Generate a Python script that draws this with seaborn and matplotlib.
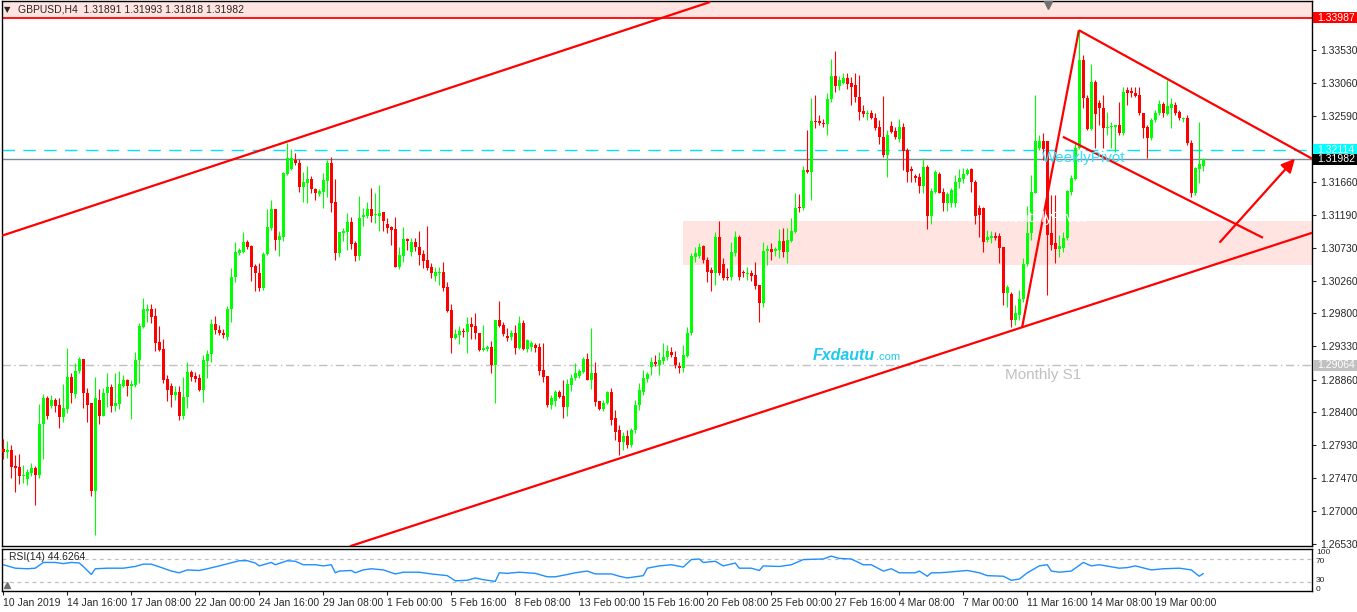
import numpy as np
import matplotlib
matplotlib.use("Agg")
import matplotlib.pyplot as plt
import seaborn as sns
from matplotlib.patches import Rectangle
from matplotlib.transforms import blended_transform_factory

# ---------------- data (GBPUSD H4) ----------------
OPEN = [
 1.2788,1.2783,1.2786,1.2764,1.2762,1.2749,1.2745,1.2754,1.2761,1.2751,
 1.2823,1.2860,1.2849,1.2857,1.2850,1.2833,1.2844,1.2890,1.2866,1.2898,
 1.2915,1.2867,1.2853,1.2728,1.2857,1.2834,1.2867,1.2876,1.2849,1.2851,
 1.2877,1.2885,1.2877,1.2878,1.2914,1.2960,1.2983,1.2986,1.2976,1.2939,
 1.2929,1.2887,1.2877,1.2864,1.2868,1.2834,1.2861,1.2897,1.2891,1.2888,
 1.2871,1.2912,1.2922,1.2965,1.2956,1.2952,1.2946,1.2986,1.3031,1.3065,
 1.3067,1.3081,1.3075,1.3047,1.3037,1.3016,1.3064,1.3101,1.3128,1.3084,
 1.3088,1.3177,1.3184,1.3197,1.3193,1.3159,1.3164,1.3170,1.3156,1.3149,
 1.3152,1.3167,1.3193,1.3138,1.3065,1.3094,1.3095,1.3109,1.3080,1.3061,
 1.3116,1.3118,1.3128,1.3119,1.3118,1.3123,1.3106,1.3102,1.3099,1.3046,
 1.3061,1.3085,1.3067,1.3081,1.3074,1.3064,1.3055,1.3046,1.3033,1.3037,
 1.3038,1.3017,1.2984,1.2945,1.2949,1.2955,1.2953,1.2965,1.2962,1.2952,
 1.2928,1.2929,1.2932,1.2907,1.2970,1.2963,1.2948,1.2946,1.2952,1.2931,
 1.2966,1.2929,1.2932,1.2935,1.2932,1.2899,1.2891,1.2850,1.2856,1.2868,
 1.2863,1.2847,1.2879,1.2888,1.2891,1.2897,1.2915,1.2885,1.2895,1.2856,
 1.2844,1.2853,1.2868,1.2831,1.2815,1.2798,1.2806,1.2793,1.2815,1.2850,
 1.2868,1.2887,1.2904,1.2911,1.2907,1.2912,1.2918,1.2925,1.2918,1.2905,
 1.2902,1.2919,1.2952,1.3060,1.3061,1.3075,1.3055,1.3041,1.3037,1.3088,
 1.3050,1.3031,1.3031,1.3065,1.3088,1.3038,1.3036,1.3037,1.3034,1.3020,
 1.2995,1.3068,1.3071,1.3068,1.3070,1.3082,1.3067,1.3082,1.3095,1.3130,
 1.3129,1.3183,1.3180,1.3252,1.3252,1.3250,1.3248,1.3283,1.3316,1.3302,
 1.3306,1.3313,1.3306,1.3303,1.3286,1.3267,1.3262,1.3264,1.3257,1.3244,
 1.3230,1.3204,1.3245,1.3238,1.3227,1.3244,1.3211,1.3184,1.3174,1.3173,
 1.3160,1.3187,1.3118,1.3152,1.3177,1.3152,1.3136,1.3136,1.3136,1.3166,
 1.3170,1.3177,1.3184,1.3166,1.3129,1.3129,1.3084,1.3087,1.3089,1.3089,
 1.3074,1.3009,1.3007,1.2970,1.2978,1.3000,1.3050,1.3094,1.3150,1.3214,
 1.3224,1.3224,1.3094,1.3080,1.3071,1.3072,1.3087,1.3152,1.3170,1.3214,
 1.3339,1.3285,1.3241,1.3308,1.3278,1.3271,1.3242,1.3244,1.3244,1.3247,
 1.3235,1.3296,1.3295,1.3292,1.3289,1.3264,1.3244,1.3228,1.3254,1.3264,
 1.3276,1.3262,1.3271,1.3275,1.3265,1.3255,1.3257,1.3221,1.3150,1.3184,
 1.31891]
HIGH = [
 1.2802,1.2799,1.2793,1.2779,1.2781,1.2765,1.2759,1.2768,1.2764,1.2851,
 1.2866,1.2863,1.2864,1.2860,1.2860,1.2880,1.2931,1.2895,1.2910,1.2918,
 1.2915,1.2874,1.2853,1.2890,1.2873,1.2874,1.2895,1.2880,1.2895,1.2898,
 1.2892,1.2887,1.2885,1.2925,1.2966,1.3002,1.2993,1.2993,1.2987,1.2962,
 1.2944,1.2892,1.2881,1.2877,1.2877,1.2890,1.2911,1.2900,1.2897,1.2894,
 1.2921,1.2928,1.2972,1.2976,1.2963,1.2958,1.2990,1.3044,1.3081,1.3072,
 1.3095,1.3084,1.3077,1.3050,1.3051,1.3067,1.3128,1.3140,1.3128,1.3097,
 1.3180,1.3221,1.3213,1.3207,1.3199,1.3180,1.3189,1.3174,1.3157,1.3156,
 1.3179,1.3197,1.3201,1.3170,1.3095,1.3101,1.3122,1.3116,1.3082,1.3146,
 1.3129,1.3138,1.3157,1.3150,1.3162,1.3123,1.3115,1.3104,1.3116,1.3074,
 1.3102,1.3087,1.3087,1.3087,1.3097,1.3070,1.3104,1.3051,1.3046,1.3046,
 1.3052,1.3024,1.2993,1.2958,1.2962,1.2959,1.2975,1.2975,1.2980,1.2952,
 1.2963,1.2935,1.2941,1.2970,1.2997,1.2968,1.2959,1.2956,1.2963,1.2976,
 1.2970,1.2944,1.2941,1.2938,1.2938,1.2938,1.2891,1.2864,1.2871,1.2871,
 1.2885,1.2887,1.2894,1.2910,1.2901,1.2918,1.2924,1.2959,1.2911,1.2856,
 1.2857,1.2870,1.2874,1.2843,1.2822,1.2812,1.2815,1.2817,1.2857,1.2881,
 1.2900,1.2897,1.2918,1.2921,1.2925,1.2938,1.2935,1.2932,1.2927,1.2911,
 1.2935,1.2960,1.3065,1.3074,1.3080,1.3077,1.3060,1.3046,1.3095,1.3111,
 1.3058,1.3044,1.3081,1.3097,1.3091,1.3041,1.3046,1.3041,1.3053,1.3020,
 1.3081,1.3077,1.3080,1.3074,1.3099,1.3101,1.3101,1.3115,1.3150,1.3149,
 1.3189,1.3240,1.3285,1.3289,1.3261,1.3255,1.3292,1.3340,1.3352,1.3316,
 1.3320,1.3320,1.3315,1.3320,1.3317,1.3275,1.3268,1.3268,1.3264,1.3254,
 1.3288,1.3240,1.3252,1.3244,1.3255,1.3250,1.3214,1.3189,1.3177,1.3179,
 1.3200,1.3190,1.3157,1.3183,1.3180,1.3157,1.3152,1.3157,1.3176,1.3184,
 1.3186,1.3186,1.3186,1.3169,1.3133,1.3131,1.3098,1.3097,1.3095,1.3094,
 1.3074,1.3020,1.3010,1.2992,1.3013,1.3058,1.3132,1.3176,1.3289,1.3233,
 1.3235,1.3224,1.3148,1.3148,1.3091,1.3095,1.3155,1.3176,1.3221,1.3381,
 1.3346,1.3289,1.3333,1.3310,1.3282,1.3289,1.3265,1.3251,1.3247,1.3279,
 1.3301,1.3301,1.3301,1.3301,1.3301,1.3264,1.3247,1.3257,1.3268,1.3282,
 1.3279,1.3310,1.3285,1.3279,1.3268,1.3258,1.3261,1.3225,1.3187,1.3251,
 1.31993]
LOW = [
 1.2773,1.2775,1.2747,1.2727,1.2738,1.2740,1.2737,1.2749,1.2708,1.2747,
 1.2773,1.2830,1.2846,1.2840,1.2817,1.2826,1.2839,1.2853,1.2860,1.2895,
 1.2846,1.2826,1.2721,1.2666,1.2823,1.2834,1.2847,1.2840,1.2842,1.2844,
 1.2876,1.2863,1.2830,1.2876,1.2881,1.2959,1.2968,1.2966,1.2927,1.2927,
 1.2881,1.2856,1.2847,1.2857,1.2829,1.2830,1.2846,1.2884,1.2883,1.2870,
 1.2854,1.2888,1.2911,1.2951,1.2949,1.2945,1.2942,1.2968,1.3024,1.3062,
 1.3065,1.3071,1.3026,1.3012,1.3012,1.3013,1.3062,1.3098,1.3070,1.3061,
 1.3082,1.3176,1.3183,1.3190,1.3152,1.3138,1.3136,1.3150,1.3140,1.3146,
 1.3129,1.3145,1.3123,1.3055,1.3060,1.3082,1.3070,1.3071,1.3054,1.3055,
 1.3104,1.3115,1.3109,1.3108,1.3097,1.3097,1.3094,1.3077,1.3046,1.3043,
 1.3053,1.3070,1.3061,1.3068,1.3048,1.3044,1.3041,1.3030,1.3026,1.3020,
 1.3012,1.2982,1.2924,1.2943,1.2936,1.2946,1.2924,1.2943,1.2943,1.2927,
 1.2927,1.2927,1.2895,1.2853,1.2960,1.2948,1.2941,1.2942,1.2922,1.2929,
 1.2928,1.2925,1.2927,1.2925,1.2893,1.2883,1.2847,1.2844,1.2849,1.2860,
 1.2832,1.2834,1.2870,1.2885,1.2888,1.2895,1.2885,1.2873,1.2849,1.2843,
 1.2841,1.2851,1.2822,1.2800,1.2779,1.2786,1.2789,1.2790,1.2810,1.2843,
 1.2864,1.2883,1.2892,1.2905,1.2892,1.2908,1.2914,1.2918,1.2902,1.2895,
 1.2897,1.2918,1.2949,1.3053,1.3058,1.3051,1.3024,1.3012,1.3020,1.3034,
 1.3027,1.3027,1.3027,1.3061,1.3027,1.3031,1.3027,1.3026,1.3014,1.2968,
 1.2989,1.3048,1.3055,1.3061,1.3058,1.3060,1.3051,1.3081,1.3094,1.3123,
 1.3126,1.3179,1.3140,1.3242,1.3247,1.3244,1.3233,1.3279,1.3293,1.3296,
 1.3305,1.3298,1.3275,1.3279,1.3254,1.3258,1.3254,1.3255,1.3240,1.3220,
 1.3201,1.3173,1.3235,1.3227,1.3223,1.3183,1.3166,1.3166,1.3166,1.3150,
 1.3150,1.3099,1.3106,1.3150,1.3150,1.3125,1.3125,1.3131,1.3131,1.3157,
 1.3164,1.3176,1.3152,1.3106,1.3088,1.3067,1.3081,1.3080,1.3084,1.3051,
 1.2992,1.2989,1.2960,1.2963,1.2970,1.2996,1.3047,1.3084,1.3150,1.3211,
 1.3197,1.3006,1.3070,1.3051,1.3060,1.3067,1.3084,1.3147,1.3169,1.3213,
 1.3271,1.3240,1.3240,1.3214,1.3247,1.3214,1.3233,1.3214,1.3208,1.3233,
 1.3233,1.3275,1.3286,1.3286,1.3261,1.3228,1.3200,1.3225,1.3251,1.3261,
 1.3258,1.3261,1.3242,1.3261,1.3254,1.3251,1.3218,1.3145,1.3147,1.3164,
 1.31818]
CLOSE = [
 1.2783,1.2786,1.2762,1.2761,1.2749,1.2751,1.2755,1.2761,1.2751,1.2823,
 1.2860,1.2834,1.2857,1.2849,1.2833,1.2846,1.2890,1.2867,1.2898,1.2915,
 1.2867,1.2850,1.2728,1.2860,1.2834,1.2867,1.2876,1.2849,1.2853,1.2880,
 1.2885,1.2877,1.2880,1.2914,1.2962,1.2986,1.2986,1.2975,1.2938,1.2928,
 1.2885,1.2871,1.2864,1.2868,1.2834,1.2861,1.2897,1.2890,1.2887,1.2871,
 1.2914,1.2922,1.2965,1.2956,1.2952,1.2949,1.2986,1.3031,1.3067,1.3070,
 1.3081,1.3074,1.3046,1.3037,1.3016,1.3064,1.3102,1.3128,1.3084,1.3089,
 1.3179,1.3200,1.3200,1.3193,1.3159,1.3166,1.3170,1.3156,1.3150,1.3153,
 1.3169,1.3193,1.3136,1.3065,1.3095,1.3097,1.3109,1.3078,1.3061,1.3115,
 1.3119,1.3128,1.3118,1.3121,1.3122,1.3111,1.3101,1.3098,1.3046,1.3062,
 1.3085,1.3082,1.3081,1.3074,1.3063,1.3054,1.3044,1.3037,1.3038,1.3038,
 1.3016,1.2983,1.2945,1.2951,1.2955,1.2953,1.2965,1.2961,1.2952,1.2928,
 1.2931,1.2932,1.2907,1.2970,1.2962,1.2951,1.2945,1.2952,1.2931,1.2966,
 1.2929,1.2942,1.2938,1.2931,1.2898,1.2890,1.2850,1.2860,1.2868,1.2861,
 1.2847,1.2880,1.2888,1.2895,1.2898,1.2915,1.2885,1.2895,1.2854,1.2844,
 1.2853,1.2868,1.2829,1.2812,1.2798,1.2806,1.2793,1.2815,1.2850,1.2871,
 1.2888,1.2894,1.2911,1.2908,1.2914,1.2918,1.2927,1.2921,1.2907,1.2902,
 1.2921,1.2952,1.3061,1.3065,1.3074,1.3055,1.3038,1.3037,1.3088,1.3037,
 1.3030,1.3030,1.3067,1.3088,1.3031,1.3037,1.3037,1.3033,1.3019,1.2995,
 1.3068,1.3071,1.3067,1.3071,1.3082,1.3067,1.3084,1.3097,1.3129,1.3129,
 1.3183,1.3180,1.3252,1.3251,1.3250,1.3248,1.3283,1.3316,1.3302,1.3310,
 1.3313,1.3305,1.3301,1.3286,1.3265,1.3262,1.3264,1.3257,1.3242,1.3230,
 1.3204,1.3232,1.3237,1.3230,1.3244,1.3210,1.3180,1.3181,1.3172,1.3160,
 1.3187,1.3118,1.3153,1.3180,1.3150,1.3136,1.3149,1.3155,1.3166,1.3172,
 1.3177,1.3183,1.3166,1.3118,1.3119,1.3081,1.3088,1.3089,1.3087,1.3072,
 1.3009,1.3017,1.2970,1.2980,1.3000,1.3050,1.3094,1.3152,1.3224,1.3224,
 1.3213,1.3091,1.3077,1.3071,1.3075,1.3087,1.3153,1.3172,1.3214,1.3339,
 1.3285,1.3241,1.3308,1.3262,1.3271,1.3242,1.3244,1.3245,1.3247,1.3235,
 1.3293,1.3292,1.3292,1.3288,1.3264,1.3242,1.3228,1.3254,1.3264,1.3276,
 1.3264,1.3274,1.3276,1.3264,1.3257,1.3257,1.3221,1.3150,1.3186,1.3191,
 1.31982]

RSI_BAR = [0,3,6,8,10,13,15,17,19,20,22,23,26,30,33,35,37,40,42,44,46,49,51,54,59,
           61,63,64,67,68,71,73,75,78,80,82,83,84,87,88,90,92,95,98,100,104,107,111,113,116,
           118,120,123,124,126,129,133,136,138,141,143,146,148,152,154,156,160,161,164,167,
           170,172,174,175,178,180,183,184,187,189,190,194,197,200,205,207,209,212,215,217,
           220,222,224,228,229,231,232,234,236,241,244,246,250,252,254,256,259,261,262,264,
           267,270,272,274,279,281,283,287,290,294,297,299,300]
RSI_VAL = [60,54,53,54,64,64,62,64,63,57,43,53,54,54,57,61,61,54,49,46,51,50,53,58,67,
           67,63,58,64,60,67,66,60,60,58,60,46,49,50,46,51,53,51,44,47,47,44,41,32,33,
           37,34,31,46,45,47,45,39,39,43,46,49,44,44,40,37,41,54,58,60,
           56,69,70,64,66,58,63,54,54,50,58,57,60,69,70,75,71,70,60,60,
           49,53,46,46,49,40,46,46,47,50,46,41,40,33,35,46,58,60,49,47,
           49,64,58,60,54,55,58,51,53,54,51,40,44.6264]

TIME_LABELS = ["10 Jan 2019", "14 Jan 16:00", "17 Jan 08:00", "22 Jan 00:00", "24 Jan 16:00",
               "29 Jan 08:00", "1 Feb 00:00", "5 Feb 16:00", "8 Feb 08:00", "13 Feb 00:00",
               "15 Feb 16:00", "20 Feb 08:00", "25 Feb 00:00", "27 Feb 16:00", "4 Mar 08:00",
               "7 Mar 00:00", "11 Mar 16:00", "14 Mar 08:00", "19 Mar 00:00"]
TIME_LABEL_BARS = [0, 16, 32, 48, 64, 80, 96, 112, 128, 144, 160, 176, 192, 208, 224, 240, 256, 272, 288]

PRICE_TICKS = [1.33530, 1.33060, 1.32590, 1.31660, 1.31190, 1.30730, 1.30260, 1.29800,
               1.29330, 1.28860, 1.28400, 1.27930, 1.27470, 1.27000, 1.26530]
RSI_LEVEL_LABELS = ['100', '70', '30', '0']

RESISTANCE = 1.33987
WEEKLY_PIVOT = 1.32114
BID = 1.31982
MONTHLY_S1 = 1.29064
ZONE = (169.9, 1.3048, 1.3111)          # start bar, low, high
CHANNEL_UPPER = [(-0.3, 1.3090), (176.7, 1.3421)]
CHANNEL_LOWER = [(86.7, 1.2650), (327.2, 1.3094)]
FLAG_POLE = [(254.7, 1.2960), (268.9, 1.3381)]
PENNANT_UPPER = [(268.9, 1.3381), (327.2, 1.3199)]
PENNANT_LOWER = [(264.9, 1.3230), (314.9, 1.3087)]
ARROW = [(304.2, 1.3081), (322.9, 1.3199)]

# ---------------- style ----------------
sns.set_style("white")
plt.rcParams['font.family'] = ['Liberation Sans', 'DejaVu Sans']
plt.rcParams['axes.linewidth'] = 1.0

W, H = 1357, 612
fig = plt.figure(figsize=(W / 100, H / 100), dpi=100)
fig.patch.set_facecolor('white')


def rect(x0, y0, x1, y1):
    return [x0 / W, 1 - y1 / H, (x1 - x0) / W, (y1 - y0) / H]


ax = fig.add_axes(rect(2, 1, 1312, 546))
axr = fig.add_axes(rect(2, 549, 1312, 591))

XL = (-0.325, 327.175)
YL = (1.26503, 1.34224)
ax.set_xlim(*XL)
ax.set_ylim(*YL)
axr.set_xlim(*XL)
axr.set_ylim(14.3, 87.4)

for a in (ax, axr):
    for s in a.spines.values():
        s.set_color('black')
        s.set_linewidth(1.0)

RED = '#FF0000'
GREEN = '#00FF00'

# zones
ax.add_patch(Rectangle((XL[0], RESISTANCE), XL[1] - XL[0], YL[1] - RESISTANCE,
                       facecolor='#FFE4E1', edgecolor='none', zorder=0))
ax.add_patch(Rectangle((ZONE[0], ZONE[1]), XL[1] - ZONE[0], ZONE[2] - ZONE[1],
                       facecolor='#FFE4E1', edgecolor='none', zorder=0))

# horizontal levels
ax.axhline(RESISTANCE, color=RED, lw=1.3, zorder=1)
ax.axhline(WEEKLY_PIVOT, color='#00E5FF', lw=1.0, dashes=(9, 6), zorder=1)
ax.axhline(BID, color='#778899', lw=1.0, zorder=1)
ax.axhline(MONTHLY_S1, color='#C0C0C0', lw=1.0, dashes=(6, 2.5, 1, 2.5), zorder=1)

# candles
o, h, l, c = (np.array(v) for v in (OPEN, HIGH, LOW, CLOSE))
idx = np.arange(len(c))
cols = np.where(c >= o, GREEN, RED)
ax.vlines(idx, l, h, colors=cols, lw=0.8, zorder=3)
ax.bar(idx, np.maximum(np.abs(c - o), 0.00008), bottom=np.minimum(o, c), width=0.72,
       color=cols, edgecolor='none', zorder=4)

# trend lines
for seg in (CHANNEL_UPPER, CHANNEL_LOWER, FLAG_POLE, PENNANT_UPPER, PENNANT_LOWER):
    (x0, y0), (x1, y1) = seg
    ax.plot([x0, x1], [y0, y1], color=RED, lw=1.6, zorder=5, solid_capstyle='butt')
ax.annotate('', xy=ARROW[1], xytext=ARROW[0],
            arrowprops=dict(arrowstyle='-|>', color=RED, lw=1.6, mutation_scale=20,
                            shrinkA=0, shrinkB=0), zorder=6)

# texts on chart
ax.text(259.7, 1.3195, 'WeeklyPivot', color='#33E0FF', fontsize=11, va='baseline',
        ha='left', zorder=7)
ax.text(250.4, 1.28869, 'Monthly S1', color='#C0C0C0', fontsize=11, va='baseline',
        ha='left', zorder=7)
ax.text(249.2, 1.31093, 'MonthlyPivot', color='white', fontsize=11, va='baseline',
        ha='left', zorder=7)
ax.text(202.4, 1.29138, 'Fxdautu', color='#1EC8F0', fontsize=11.5, fontstyle='italic',
        fontweight='bold', va='baseline', ha='left', zorder=7)
ax.text(218.2, 1.29138, '.com', color='#1EC8F0', fontsize=8, va='baseline', ha='left',
        zorder=7)

fig.text(4 / W, 1 - 10 / H, '\u25BC', fontsize=6, va='center', ha='left',
         family=['DejaVu Sans'])
fig.text(18 / W, 1 - 10 / H, 'GBPUSD,H4  1.31891 1.31993 1.31818 1.31982', fontsize=7.5,
         va='center', ha='left')
ax.plot([0.7985], [0.993], marker='v', ms=6, color='#707070', transform=ax.transAxes,
        clip_on=False, zorder=8)

# right axis
ax.yaxis.tick_right()
ax.set_yticks(PRICE_TICKS)
ax.set_yticklabels([f'{p:.5f}' for p in PRICE_TICKS])
ax.tick_params(axis='y', direction='out', length=3, width=0.8, labelsize=7.5, pad=3,
               left=False, right=True)
ax.tick_params(axis='x', bottom=False, labelbottom=False)

tr = blended_transform_factory(ax.transAxes, ax.transData)
box_h = 0.00156
for price, fc in ((RESISTANCE, RED), (WEEKLY_PIVOT, '#00FFFF'), (BID, 'black'),
                  (MONTHLY_S1, '#C0C0C0')):
    ax.add_patch(Rectangle((1.0008, price - box_h / 2), 44 / 1310, box_h, transform=tr,
                           facecolor=fc, edgecolor='none', clip_on=False, zorder=9))
    ax.text(1.004, price, f'{price:.5f}', transform=tr, color='white', fontsize=7.5,
            va='center', ha='left', clip_on=False, zorder=10)

# RSI panel
axr.axhline(70, color='#C0C0C0', lw=0.9, dashes=(3, 3))
axr.axhline(30, color='#C0C0C0', lw=0.9, dashes=(3, 3))
sns.lineplot(x=RSI_BAR, y=RSI_VAL, ax=axr, color='#1E90FF', lw=1.0)
axr.set_xlabel('')
axr.set_ylabel('')
axr.set_yticks([])
axr.text(0.005, 0.80, f'RSI(14) {RSI_VAL[-1]:.4f}', transform=axr.transAxes, fontsize=7.5,
         va='center', ha='left')
trr = blended_transform_factory(axr.transAxes, axr.transData)
for lab, yv in zip(RSI_LEVEL_LABELS, (81, 66, 33, 17)):
    axr.text(1.003, yv, lab, transform=trr, fontsize=6, va='center', ha='left',
             clip_on=False)
axr.plot([0.004], [0.14], marker='^', ms=5, color='#707070', transform=axr.transAxes,
         clip_on=False)
axr.set_xticks(TIME_LABEL_BARS)
axr.set_xticklabels(TIME_LABELS, ha='left')
axr.tick_params(axis='x', direction='out', length=3, width=0.8, labelsize=7.5, pad=2,
                bottom=True)

fig.savefig('out.png', dpi=100, facecolor='white')
